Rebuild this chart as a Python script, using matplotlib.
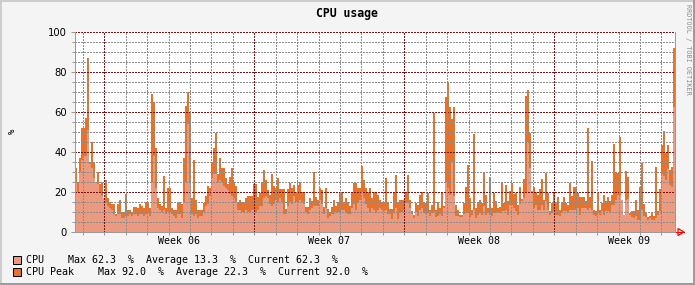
import numpy as np
import matplotlib
matplotlib.use("Agg")
import matplotlib.pyplot as plt
from matplotlib.patches import Rectangle, Polygon
from matplotlib.lines import Line2D
from matplotlib.transforms import blended_transform_factory

# ---------------- data ----------------
cpu_peak = [
    32, 25, 37, 52, 52, 57, 87, 35, 45, 35, 24, 30, 24, 25, 14, 26, 17, 15, 14, 14,
    9, 14, 16, 10, 10, 19, 11, 11, 10, 12.5, 12.5, 12, 14, 13, 12, 15, 15, 12, 69, 65,
    42, 17, 14, 13, 28, 12, 22, 22, 12, 11,
    11, 15, 15, 14, 37, 63, 70, 60, 17, 36, 16, 11, 11, 11, 14.5, 18, 23, 22, 35, 42,
    49.5, 29, 37, 32, 32, 27, 24, 27.5, 32, 25, 23, 14.5, 16, 15, 15, 17, 18, 18, 18, 24,
    24, 17.5, 19.5, 24.5, 31, 26, 21, 18.5, 29, 23,
    22, 27, 21.5, 21.5, 21.5, 11.5, 21.5, 24.5, 22, 23.5, 20, 23.5, 25, 20, 20, 12.5, 12.5, 17, 15.5, 30,
    17.5, 16, 22, 21, 12.5, 22, 11.5, 10, 12.5, 16, 13, 15, 20, 20, 15, 17, 15, 13, 19.5, 24.5,
    24.5, 22, 22, 33, 26, 22, 20, 22, 17, 20,
    19.5, 18.5, 16, 14.5, 15, 27, 14.5, 11.5, 11.5, 20, 28.5, 15, 16, 16, 16, 20, 28.5, 16, 10.5, 8.5,
    14.5, 13.5, 18.5, 20, 14.5, 14.5, 19.5, 11, 13.5, 59.5, 11, 15, 12, 19.5, 13, 67.5, 74.5, 62.5, 56.7, 62.5,
    13.5, 11, 8.3, 8.3, 14.5, 22.5, 33.7, 17, 11, 49,
    12, 15, 15.8, 14.5, 30, 18.7, 12, 27.5, 12, 19.5, 15.7, 12, 12.5, 25, 14.5, 23.3, 15.7, 20.7, 24.5, 19,
    19.5, 13.7, 22.5, 16.7, 26.7, 67.8, 70.8, 49.5, 20.7, 22.3, 20, 18.7, 21.5, 26.5, 16, 29.5, 19.5, 10.3, 14.5, 20,
    14.5, 17.3, 11, 14.5, 17.3, 14.5, 13.7, 24.5, 17.8, 22.3,
    22.3, 19.5, 17.3, 17.3, 17.3, 15.3, 52, 17.3, 35.3, 11, 10.3, 19.5, 11, 14.5, 18.7, 15.3, 17.3, 15.3, 18.7, 44,
    29.5, 29.5, 47.3, 16, 8.3, 30.3, 27.5, 9.5, 10.7, 10.3, 16, 11, 22.3, 34.5, 14, 9.5, 7.3, 7.8, 9.5, 7.8,
    32.3, 10.3, 21.5, 43.7, 50.3, 39.5, 43.3, 31.2, 32.3, 92,
]
cpu = [
    25, 20, 30, 36, 38, 38, 51, 34, 32, 27, 25, 24, 20, 18, 17, 15, 13, 12, 11, 9,
    8, 9, 9, 7, 7, 8, 8, 9, 8, 9, 9, 8, 9, 9, 8, 9, 10, 8, 25, 38,
    22, 12, 11, 10, 11, 9, 10, 10, 9, 8,
    7, 9, 9, 7, 15, 25, 54, 25, 9, 8, 9, 7, 8, 8, 10, 13, 14, 18, 27, 29,
    29, 25, 26, 25, 23, 22, 21, 19, 18, 17, 15, 11, 11, 10, 10, 11, 10, 10, 11, 11,
    10, 11, 13, 13, 17, 18, 17, 14, 13, 14,
    16, 15, 17, 15, 9, 9, 13, 15, 14, 18, 15, 15, 16, 15, 14, 10, 9, 11, 12, 13,
    13, 13, 16, 14, 9, 12, 7, 8, 9, 9, 10, 10, 10, 11, 11, 10, 9, 9, 12, 14,
    11, 15, 16, 20, 17, 14, 12, 10, 12, 11,
    10, 11, 12, 11, 10.5, 11, 9, 9, 6.5, 9.5, 12, 6.5, 9.5, 10, 11, 15, 14.5, 12, 9, 7,
    10, 8, 11, 12, 9.5, 9, 9.5, 8, 9.5, 10, 7.5, 8, 9, 8, 12, 25, 22, 18.5, 35, 18,
    8, 8, 7.5, 7.5, 9, 10, 9.5, 7.5, 8.3, 11,
    7, 8.7, 9.5, 8.7, 12.8, 8.7, 9.5, 8.7, 7.8, 9.5, 10, 10, 9.5, 10.3, 10.7, 11.2, 8.7, 13.7, 13.7, 12,
    10.3, 8.7, 14, 15.3, 17, 20, 45, 32, 20.3, 12, 13.7, 11.2, 11.2, 13.7, 11.2, 15.3, 11.2, 8.7, 9.5, 10.3,
    8.7, 8.7, 8.2, 9.5, 10.3, 10.3, 9.5, 11.2, 11.2, 11.2,
    11.2, 12, 8.7, 12, 12, 12, 11.2, 12, 11.2, 8.3, 7.8, 9.5, 8.7, 10.3, 8.7, 10.7, 10.3, 9.5, 13.7, 13.7,
    16.2, 18.7, 18.7, 16.2, 8.3, 16.2, 16.7, 8.7, 7.3, 7, 7.8, 6.2, 6.2, 11.2, 7.8, 7.5, 6.2, 7, 6.2, 6.2,
    7, 8.7, 10.7, 29, 27.8, 26, 31.5, 23.7, 22.3, 62.3,
]
week_labels = ["Week 06", "Week 07", "Week 08", "Week 09"]
y_ticks = [0, 20, 40, 60, 80, 100]
legend_texts = [
    "CPU    Max 62.3  %  Average 13.3  %  Current 62.3  %",
    "CPU Peak    Max 92.0  %  Average 22.3  %  Current 92.0  %",
]
title = "CPU usage"
y_label = "%"
watermark = "RRDTOOL / TOBI OETIKER"

# ---------------- style ----------------
W, H = 695, 285
BG = "#F4F4F4"
C_CPU = "#EB9A80"
C_PEAK = "#E5732C"
C_MINOR = "#8C8C8C"
C_MAJOR = "#7A1414"
C_AXIS = "#9A9A9A"
MONO = "DejaVu Sans Mono"
PX = 0.72  # one pixel in points
GRID_LW = 0.75

def fx(x):
    return x / W

def fy(y):
    return 1 - y / H

fig = plt.figure(figsize=(W / 100, H / 100), dpi=100, facecolor=BG)

ax = fig.add_axes([fx(75), fy(232), 600 / W, 200 / H])
ax.set_facecolor("white")

n = len(cpu)
span_days = 28.0
edges = np.linspace(0, span_days, n + 1)
ax.stairs(cpu_peak, edges, fill=True, color=C_PEAK, lw=0, zorder=2)
ax.stairs(cpu, edges, fill=True, color=C_CPU, lw=0, zorder=3)

ax.set_xlim(0, span_days)
ax.set_ylim(0, 100)

week0 = 1.365
dots = (0, (1, 1))
# horizontal grid
for v in range(5, 101, 5):
    major = (v % 20 == 0)
    ax.axhline(v, color=C_MAJOR if major else C_MINOR, lw=GRID_LW, ls=dots,
               zorder=5, antialiased=False)
# vertical grid (days / weeks)
days = np.arange(week0 - 1, span_days, 1.0)
for d in days:
    k = round(d - week0)
    major = (k % 7 == 0)
    ax.axvline(d, color=C_MAJOR if major else C_MINOR, lw=GRID_LW, ls=dots,
               zorder=5, antialiased=False)

# ticks
ax.set_yticks(y_ticks)
ax.set_yticklabels([str(t) for t in y_ticks], fontsize=7.2, family="DejaVu Sans")
ax.set_yticks(np.arange(0, 101, 5), minor=True)
ax.set_xticks(days)
ax.set_xticklabels([])
ax.tick_params(axis="y", which="major", length=3, width=PX, color=C_AXIS, pad=3)
ax.tick_params(axis="y", which="minor", length=2, width=PX, color=C_AXIS)
ax.tick_params(axis="x", which="major", length=2, width=PX, color=C_AXIS, direction="out")

ax.spines["top"].set_visible(False)
for s in ["left", "bottom", "right"]:
    ax.spines[s].set_color(C_AXIS)
    ax.spines[s].set_linewidth(PX)
    ax.spines[s].set_zorder(6)

# week labels
tr = blended_transform_factory(ax.transData, fig.transFigure)
for j, lab in enumerate(week_labels):
    ax.text(week0 + 7 * j + 3.5, fy(241), lab, transform=tr, ha="center", va="center",
            fontsize=7.2, family=MONO)

# axis extension + red arrow
fig.add_artist(Line2D([fx(675), fx(681)], [fy(232), fy(232)], color=C_AXIS, lw=PX))
fig.add_artist(Polygon([(fx(678), fy(228.5)), (fx(678), fy(235.5)), (fx(684), fy(232))],
                       closed=True, fill=False, edgecolor="#FF0000", lw=0.9))
fig.add_artist(Line2D([fx(676), fx(684)], [fy(232), fy(232)], color="#FF0000", lw=PX))

# title, y label, watermark
fig.text(fx(347), fy(14), title, ha="center", va="center", fontsize=8.3,
         family=MONO, fontweight="bold")
fig.text(fx(12), fy(131), y_label, ha="center", va="center", fontsize=6.5,
         family=MONO, rotation=90)
fig.text(fx(688), fy(49), watermark, ha="center", va="center", fontsize=4.9,
         family=MONO, rotation=-90, color="#8C8C8C")

# legend
for k, (col, txt) in enumerate(zip([C_CPU, C_PEAK], legend_texts)):
    yc = 259.7 + 12 * k
    fig.add_artist(Rectangle((fx(13), fy(yc + 4)), 8 / W, 8 / H, facecolor=col,
                             edgecolor="black", lw=PX))
    fig.text(fx(26), fy(yc), txt, ha="left", va="center", fontsize=7.2, family=MONO)

# 3D border
fig.add_artist(Rectangle((0, fy(2)), 1, 2 / H, facecolor="#CDCDCD", edgecolor="none"))
fig.add_artist(Rectangle((0, 0), 2 / W, 1, facecolor="#CDCDCD", edgecolor="none"))
fig.add_artist(Rectangle((0, 0), 1, 2.5 / H, facecolor="#9C9C9C", edgecolor="none"))
fig.add_artist(Rectangle((fx(692.5), 0), 2.5 / W, 1, facecolor="#9C9C9C", edgecolor="none"))

fig.savefig("out.png", dpi=100, facecolor=BG)
